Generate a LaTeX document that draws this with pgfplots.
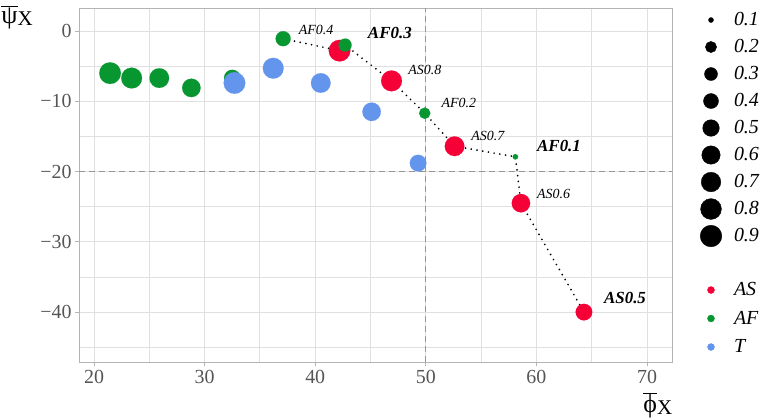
\documentclass[border=0pt]{standalone}
\usepackage{pgfplots}
\usepackage{pgfplotstable}
\pgfplotsset{compat=1.18}
\usepackage{fontspec}
\setmainfont{Liberation Serif}
\definecolor{cAS}{RGB}{245,0,55}
\definecolor{cAF}{RGB}{8,150,48}
\definecolor{cT}{RGB}{100,149,237}
\definecolor{gridc}{RGB}{224,224,224}
\definecolor{axc}{RGB}{180,180,180}
\definecolor{tickc}{RGB}{85,85,85}
\definecolor{refc}{RGB}{150,150,150}

% x y size radius(bp)
\pgfplotstableread{
x y s r
64.3 -40.0 0.5 8.3
58.6 -24.5 0.6 9.2
52.6 -16.4 0.7 9.8
46.9 -7.1 0.8 10.4
42.2 -2.8 0.9 10.8
}\tAS
\pgfplotstableread{
x y s r
58.1 -17.9 0.1 2.7
49.9 -11.7 0.2 5.6
42.7 -2.0 0.3 6.5
37.1 -1.1 0.4 7.5
32.5 -6.7 0.5 8.3
28.8 -8.1 0.6 9.2
25.9 -6.7 0.7 9.8
23.4 -6.7 0.8 10.4
21.45 -6.0 0.9 10.8
}\tAF
\pgfplotstableread{
x y s r
49.3 -18.8 0.5 8.3
45.1 -11.5 0.6 9.2
40.5 -7.4 0.7 9.8
36.2 -5.3 0.8 10.4
32.7 -7.4 0.9 10.8
}\tT

\pgfplotsset{
  sizedpts/.style={scatter, only marks, mark=*,
    scatter/use mapped color={draw=#1, fill=#1, line width=0.1pt},
    visualization depends on={\thisrow{r} \as \rad},
    scatter/@pre marker code/.append style={/tikz/mark size=\rad bp}},
  commonax/.style={at={(79bp,56bp)}, anchor=south west, width=593bp, height=354bp,
    scale only axis, xmin=18.64, xmax=72.26, ymin=-47.1, ymax=3.27},
  legimgA/.style={legend image code/.code={
      \path[draw=none, fill=none] (-11bp,-13.5bp) rectangle (11bp,13.5bp);
      \draw[##1] plot coordinates {(0bp,0bp)};}},
  legimgB/.style={legend image code/.code={
      \path[draw=none, fill=none] (-11bp,-14.25bp) rectangle (11bp,14.25bp);
      \draw[##1] plot coordinates {(0bp,0bp)};}},
}

\begin{document}
\begin{tikzpicture}
\path[use as bounding box] (0,0) rectangle (764bp,418bp);
\begin{axis}[commonax,
  axis line style={axc, line width=0.8bp},
  xtick={20,30,40,50,60,70},
  ytick={-40,-30,-20,-10,0},
  yticklabels={−40,−30,−20,−10,0},
  minor xtick={25,35,45,55,65},
  minor ytick={-45,-35,-25,-15,-5},
  grid=both,
  major grid style={gridc, line width=0.9bp},
  minor grid style={gridc, line width=0.9bp},
  tick pos=left, tick align=outside,
  major tick length=4bp, minor tick length=0bp,
  tick style={axc, line width=0.8bp},
  /pgf/number format/assume math mode=true,
  ticklabel style={font=\fontsize{20}{20}\selectfont, text=tickc},
  xticklabel style={yshift=-1bp},
  xlabel={$\overline{\hbox{\fontsize{26}{26}\selectfont ϕ}}$\raisebox{-0.2em}{\fontsize{21}{21}\selectfont X}},
  ylabel={$\overline{\hbox{\fontsize{26}{26}\selectfont ψ}}$\raisebox{-0.2em}{\fontsize{21}{21}\selectfont X}},
  every axis x label/.style={at={(rel axis cs:0.976,-0.1215)}, anchor=center, inner sep=0pt},
  every axis y label/.style={at={(rel axis cs:-0.1045,0.9746)}, anchor=center, inner sep=0pt},
  clip=false,
]
\addplot[refc, line width=1.1bp, dash pattern=on 6bp off 4bp] coordinates {(50,-47.1) (50,3.27)};
\addplot[refc, line width=1.1bp, dash pattern=on 6bp off 4bp] coordinates {(18.64,-20) (72.26,-20)};
\addplot[black, line width=1.9bp, dash pattern=on 0bp off 5.8bp, line cap=round] coordinates {
(37.1,-1.1) (42.2,-2.8) (42.7,-2.0) (46.9,-7.1) (49.9,-11.7) (52.6,-16.4) (58.1,-17.9) (58.6,-24.5) (64.3,-40.0)};
\addplot[sizedpts=cAS] table[x=x, y=y] {\tAS};
\addplot[sizedpts=cAF] table[x=x, y=y] {\tAF};
\addplot[sizedpts=cT] table[x=x, y=y] {\tT};
\node[anchor=west, inner sep=0pt, font=\fontsize{14}{14}\selectfont\itshape] at (axis cs:38.5,0.1) {AF0.4};
\node[anchor=west, inner sep=0pt, font=\fontsize{17}{17}\selectfont\itshape\bfseries] at (axis cs:44.75,-0.25) {AF0.3};
\node[anchor=west, inner sep=0pt, font=\fontsize{14}{14}\selectfont\itshape] at (axis cs:48.4,-5.6) {AS0.8};
\node[anchor=west, inner sep=0pt, font=\fontsize{14}{14}\selectfont\itshape] at (axis cs:51.4,-10.3) {AF0.2};
\node[anchor=west, inner sep=0pt, font=\fontsize{14}{14}\selectfont\itshape] at (axis cs:54.1,-15.0) {AS0.7};
\node[anchor=west, inner sep=0pt, font=\fontsize{17}{17}\selectfont\itshape\bfseries] at (axis cs:60.05,-16.3) {AF0.1};
\node[anchor=west, inner sep=0pt, font=\fontsize{14}{14}\selectfont\itshape] at (axis cs:60.05,-23.2) {AS0.6};
\node[anchor=west, inner sep=0pt, font=\fontsize{17}{17}\selectfont\itshape\bfseries] at (axis cs:66.1,-38.0) {AS0.5};
\end{axis}

% size legend
\begin{axis}[commonax, hide axis, legimgA,
  legend cell align=left,
  legend style={draw=none, fill=none, inner sep=0pt, outer sep=0pt,
    at={(rel axis cs:1.0472,1.0042)}, anchor=north west,
    font=\fontsize{20}{20}\selectfont\itshape,
    /tikz/column sep=12bp, /tikz/row sep=0pt,
    nodes={inner sep=0pt}},
]
\addlegendimage{only marks, mark=*, black, mark size=2.5bp}
\addlegendentry{0.1}
\addlegendimage{only marks, mark=*, black, mark size=5.6bp}
\addlegendentry{0.2}
\addlegendimage{only marks, mark=*, black, mark size=6.5bp}
\addlegendentry{0.3}
\addlegendimage{only marks, mark=*, black, mark size=7.5bp}
\addlegendentry{0.4}
\addlegendimage{only marks, mark=*, black, mark size=8.3bp}
\addlegendentry{0.5}
\addlegendimage{only marks, mark=*, black, mark size=9.2bp}
\addlegendentry{0.6}
\addlegendimage{only marks, mark=*, black, mark size=9.8bp}
\addlegendentry{0.7}
\addlegendimage{only marks, mark=*, black, mark size=10.4bp}
\addlegendentry{0.8}
\addlegendimage{only marks, mark=*, black, mark size=10.8bp}
\addlegendentry{0.9}
\end{axis}

% colour legend
\begin{axis}[commonax, hide axis, legimgB,
  legend cell align=left,
  legend style={draw=none, fill=none, inner sep=0pt, outer sep=0pt,
    at={(rel axis cs:1.0472,0.2436)}, anchor=north west,
    font=\fontsize{20}{20}\selectfont\itshape,
    /tikz/column sep=12bp, /tikz/row sep=0pt,
    nodes={inner sep=0pt}},
]
\addlegendimage{only marks, mark=*, cAS, mark size=3.5bp}
\addlegendentry{AS}
\addlegendimage{only marks, mark=*, cAF, mark size=3.5bp}
\addlegendentry{AF}
\addlegendimage{only marks, mark=*, cT, mark size=3.5bp}
\addlegendentry{T}
\end{axis}
\end{tikzpicture}
\end{document}
